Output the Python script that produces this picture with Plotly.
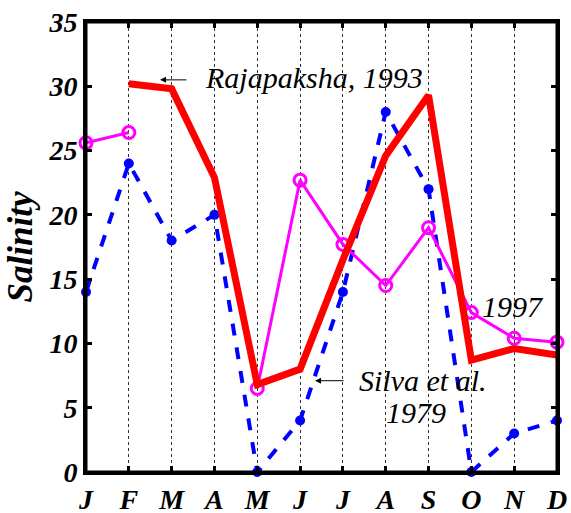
import plotly.graph_objects as go

months = ["J", "F", "M", "A", "M", "J", "J", "A", "S", "O", "N", "D"]
x_idx = list(range(12))

rajapaksha_1993 = [None, 30.2, 29.8, 22.9, 6.8, 8.0, 16.5, 24.6, 29.3, 8.7, 9.6, 9.1]
data_1997 = [25.6, 26.4, None, None, 6.5, 22.7, 17.7, 14.5, 19.0, 12.4, 10.4, 10.1]
silva_1979 = [14, 24, 18, 20, 0, 4, 14, 28, 22, 0, 3, 4]

y_ticks = [0, 5, 10, 15, 20, 25, 30, 35]

FONT = "Liberation Serif"

fig = go.Figure()

fig.add_trace(go.Scatter(
    x=x_idx, y=silva_1979, mode="lines+markers",
    line=dict(color="#0000ff", width=4, dash="dash"),
    marker=dict(symbol="circle", size=10, color="#0000ff"),
    cliponaxis=False, showlegend=False))

fig.add_trace(go.Scatter(
    x=x_idx, y=data_1997, mode="lines+markers", connectgaps=False,
    line=dict(color="#ff00ff", width=3),
    marker=dict(symbol="circle-open", size=12, color="#ff00ff", line=dict(width=3)),
    cliponaxis=False, showlegend=False))

fig.add_trace(go.Scatter(
    x=x_idx, y=rajapaksha_1993, mode="lines",
    line=dict(color="#ff0000", width=7),
    cliponaxis=False, showlegend=False))

tickfont = dict(family=FONT, size=28, color="black")

fig.update_layout(
    xaxis=dict(
        range=[0, 11], tickmode="array", tickvals=x_idx, ticktext=[f"<b><i>{m}</i></b>" for m in months],
        tickfont=tickfont, ticks="inside", ticklen=6, tickwidth=3, tickcolor="black",
        showline=True, linecolor="black", linewidth=3, mirror="allticks",
        showgrid=True, gridcolor="#333333", gridwidth=1, griddash="dot", zeroline=False,
        automargin=False),
    yaxis=dict(
        range=[0, 35], tickmode="array", tickvals=y_ticks, ticktext=[f"<b><i>{v}</i></b>" for v in y_ticks],
        tickfont=tickfont, ticks="inside", ticklen=6, tickwidth=3, tickcolor="black",
        showline=True, linecolor="black", linewidth=3, mirror="allticks",
        showgrid=False, zeroline=False, automargin=False,
        title=dict(text="<b><i>Salinity</i></b>", font=dict(family=FONT, size=35, color="black"), standoff=6)),
)

# full frame around the plotting area
fig.add_shape(type="rect", xref="x domain", yref="y domain", x0=0, x1=1, y0=0, y1=1,
              line=dict(color="black", width=3), fillcolor="rgba(0,0,0,0)", layer="above")

afont = dict(family=FONT, size=30, color="black")
annotations = [
    dict(x=2.74, y=30.7, text="<i>Rajapaksha, 1993</i>", xanchor="left", yanchor="middle", showarrow=False),
    dict(x=7.87, y=7.1, text="<i>Silva et al.</i>", xanchor="center", yanchor="middle", showarrow=False),
    dict(x=7.71, y=4.6, text="<i>1979</i>", xanchor="center", yanchor="middle", showarrow=False),
    dict(x=9.98, y=12.9, text="<i>1997</i>", xanchor="center", yanchor="middle", showarrow=False),
    dict(x=1.73, y=30.5, ax=2.38, ay=30.5, axref="x", ayref="y", text="", showarrow=True,
         arrowhead=2, arrowsize=1.2, arrowwidth=1, arrowcolor="black"),
    dict(x=5.35, y=7.1, ax=6.05, ay=7.1, axref="x", ayref="y", text="", showarrow=True,
         arrowhead=2, arrowsize=1.2, arrowwidth=1, arrowcolor="black"),
]
for a in annotations:
    a.update(xref="x", yref="y", font=afont)
fig.update_layout(annotations=annotations)

fig.update_layout(
    width=571, height=513,
    margin=dict(l=86, r=14, t=22, b=41),
    paper_bgcolor="white", plot_bgcolor="white",
    font=dict(family=FONT, color="black"))

# remove the default 8px page margin so the figure fills the window exactly
fig.write_html("out.html", config={"displayModeBar": False},
               post_script="document.body.style.margin='0';document.body.style.overflow='hidden';")
